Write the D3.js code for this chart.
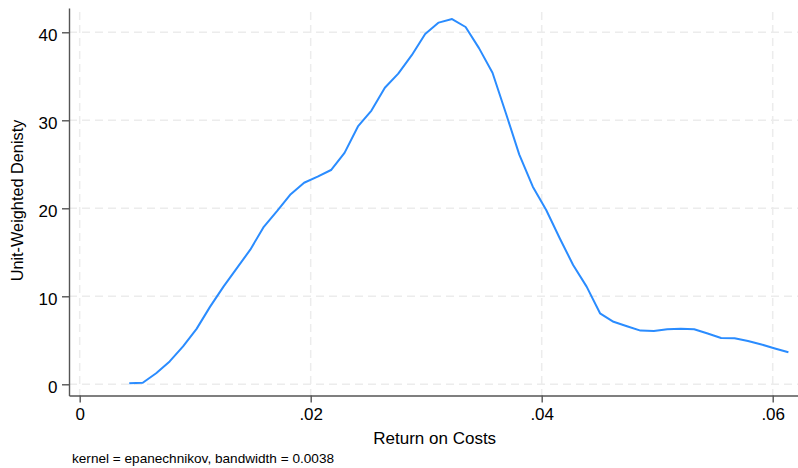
<!DOCTYPE html>
<html>
<head>
<meta charset="utf-8">
<script src="https://cdn.jsdelivr.net/npm/d3@7"></script>
<style>
  html, body { margin: 0; padding: 0; background: #fff; }
  svg { display: block; }
  text { font-family: "Liberation Sans", Arial, Helvetica, sans-serif; fill: #000; }
</style>
</head>
<body>
<svg id="chart" width="798" height="468"></svg>
<script>
// Data: kernel density estimate points (x = return on costs, y = density)
const returnOnCosts = [
  0.00429, 0.00546, 0.00662, 0.00779, 0.00895, 0.01012, 0.01128, 0.01245, 0.01361, 0.01477,
  0.01594, 0.01710, 0.01827, 0.01943, 0.02060, 0.02176, 0.02293, 0.02409, 0.02526, 0.02642,
  0.02758, 0.02875, 0.02991, 0.03108, 0.03224, 0.03341, 0.03457, 0.03574, 0.03690, 0.03806,
  0.03923, 0.04039, 0.04156, 0.04272, 0.04389, 0.04505, 0.04622, 0.04738, 0.04855, 0.04971,
  0.05087, 0.05204, 0.05320, 0.05437, 0.05553, 0.05670, 0.05786, 0.05903, 0.06019, 0.06136
];
const density = [
  0.12, 0.18, 1.25, 2.6, 4.3, 6.3, 8.8, 11.1, 13.2, 15.3,
  17.9, 19.7, 21.6, 22.9, 23.6, 24.35, 26.3, 29.3, 31.1, 33.7,
  35.3, 37.4, 39.8, 41.1, 41.5, 40.6, 38.2, 35.4, 30.8, 26.1,
  22.45, 19.8, 16.6, 13.56, 11.1, 8.07, 7.1, 6.6, 6.1, 6.05,
  6.26, 6.32, 6.25, 5.77, 5.26, 5.23, 4.92, 4.52, 4.07, 3.64
];
const xTicks = [0, 0.02, 0.04, 0.06];
const xTickLabels = ["0", ".02", ".04", ".06"];
const yTicks = [0, 10, 20, 30, 40];
const yTickLabels = ["0", "10", "20", "30", "40"];
const xTitle = "Return on Costs";
const yTitle = "Unit-Weighted Denisty";
const note = "kernel = epanechnikov, bandwidth = 0.0038";

const svg = d3.select("#chart");
const mLeft = 69, mRight = 798, mTop = 8, mBottom = 395.5;

const x = d3.scaleLinear().domain([-0.000926, 0.06219]).range([mLeft, mRight]);
const y = d3.scaleLinear().domain([-1.273, 42.76]).range([mBottom, mTop]);

// gridlines
const grid = svg.append("g");
grid.selectAll("line.h").data(yTicks).join("line")
  .attr("class", "h")
  .attr("x1", mLeft).attr("x2", mRight)
  .attr("y1", d => y(d)).attr("y2", d => y(d))
  .attr("stroke", "#ececec").attr("stroke-width", 1.5)
  .attr("stroke-dasharray", "8,5");
grid.selectAll("line.v").data(xTicks).join("line")
  .attr("class", "v")
  .attr("x1", d => x(d)).attr("x2", d => x(d))
  .attr("y1", 12).attr("y2", mBottom)
  .attr("stroke", "#ececec").attr("stroke-width", 1.5)
  .attr("stroke-dasharray", "8,5");

// axes
const xAxis = d3.axisBottom(x).tickValues(xTicks)
  .tickFormat((d, i) => xTickLabels[i]).tickSizeInner(7).tickSizeOuter(0).tickPadding(5);
const yAxis = d3.axisLeft(y).tickValues(yTicks)
  .tickFormat((d, i) => yTickLabels[i]).tickSizeInner(7).tickSizeOuter(0).tickPadding(4.5);

const gx = svg.append("g").attr("transform", `translate(0,${mBottom})`).call(xAxis);
const gy = svg.append("g").attr("transform", `translate(${mLeft},0)`).call(yAxis);
[gx, gy].forEach(g => {
  g.select(".domain").attr("stroke", "#555").attr("stroke-width", 1.4);
  g.selectAll(".tick line").attr("stroke", "#555").attr("stroke-width", 1.4);
  g.selectAll(".tick text").attr("font-size", 17)
    .attr("font-family", '"Liberation Sans", Arial, Helvetica, sans-serif').attr("fill", "#000");
});
gy.selectAll(".tick text").attr("dy", "0.5em");

// density line
const line = d3.line().x((d, i) => x(returnOnCosts[i])).y(d => y(d));
svg.append("path").datum(density)
  .attr("d", line)
  .attr("fill", "none")
  .attr("stroke", "#2a8cff")
  .attr("stroke-width", 2)
  .attr("stroke-linejoin", "round");

// titles
svg.append("text").attr("x", 434.7).attr("y", 444)
  .attr("text-anchor", "middle").attr("font-size", 17).text(xTitle);
svg.append("text").attr("transform", "translate(23,200.5) rotate(-90)")
  .attr("text-anchor", "middle").attr("font-size", 16.3).text(yTitle);
svg.append("text").attr("x", 72).attr("y", 463)
  .attr("font-size", 13.6).text(note);
</script>
</body>
</html>
